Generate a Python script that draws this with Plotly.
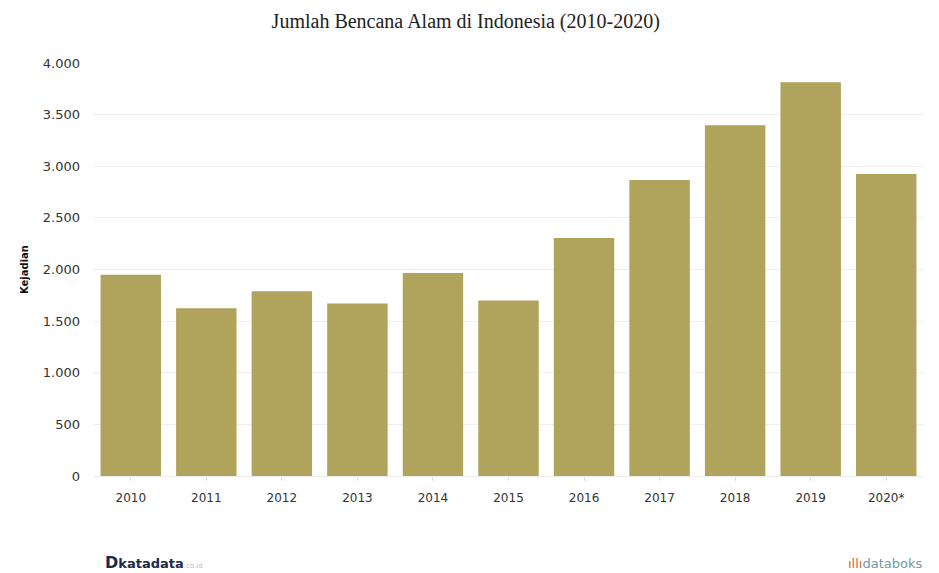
import plotly.graph_objects as go

years = ["2010", "2011", "2012", "2013", "2014", "2015", "2016", "2017", "2018", "2019", "2020*"]
kejadian = [1950, 1625, 1790, 1670, 1967, 1700, 2306, 2866, 3397, 3814, 2925]

bar_color = "#b0a35c"

fig = go.Figure(go.Bar(x=years, y=kejadian, marker=dict(color=bar_color, line=dict(width=0))))

fig.update_layout(
    width=939, height=573,
    margin=dict(l=93, r=15, t=63, b=97),
    paper_bgcolor="white", plot_bgcolor="white",
    separators=",.",
    bargap=0.2,
    showlegend=False,
    title=dict(text="Jumlah Bencana Alam di Indonesia (2010-2020)",
               font=dict(family="Liberation Serif, Times New Roman, serif", size=20, color="#222"),
               x=0.496, xanchor="center", y=0.963, yanchor="middle"),
    font=dict(family="DejaVu Sans, Verdana, sans-serif", size=12, color="#333"),
)
fig.update_yaxes(range=[0, 4000], dtick=500, tickformat=",.0f",
                 showgrid=True, gridcolor="#efefef", gridwidth=1,
                 zeroline=False, showline=False, ticks="", ticklen=0,
                 ticklabelstandoff=12,
                 tickfont=dict(size=13, color="#333"),
                 title=dict(text="<b>Kejadian</b>", font=dict(size=10, color="#111"), standoff=12))
fig.update_xaxes(showgrid=False, showline=True, linecolor="#ececec", linewidth=1,
                 ticks="outside", ticklen=4, tickcolor="#e0e0e0",
                 ticklabelstandoff=7,
                 tickfont=dict(size=12, color="#333"))

fig.add_annotation(x=0.012, y=0.0, xref="paper", yref="paper", yshift=-86, xanchor="left", yanchor="middle",
                   showarrow=False,
                   text="<b><span style='font-size:16px;color:#1d2a4d'>D</span><span style='color:#1d2a4d'>katadata</span></b><span style='font-size:7px;color:#bbb'>.co.id</span>",
                   font=dict(family="DejaVu Sans, sans-serif", size=13))
fig.add_annotation(x=1.0, y=0.0, xref="paper", yref="paper", yshift=-87, xanchor="right", yanchor="middle",
                   showarrow=False,
                   text="<span style='color:#e0643a'>ıllı</span><span style='color:#6f98a3'>databoks</span>",
                   font=dict(family="DejaVu Sans, sans-serif", size=13))

fig.write_html("out.html")
